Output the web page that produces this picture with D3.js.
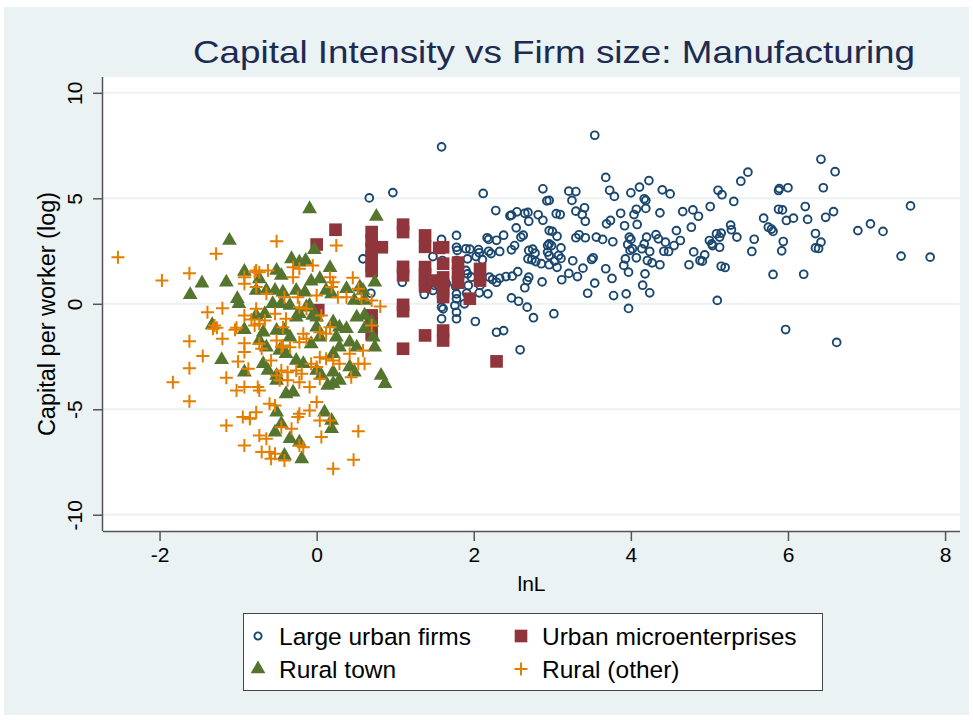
<!DOCTYPE html>
<html>
<head>
<meta charset="utf-8">
<script src="https://cdn.jsdelivr.net/npm/d3@7"></script>
<style>
  body { margin: 0; background: #ffffff; }
  svg { display: block; font-family: "Liberation Sans", Arial, sans-serif; }
</style>
</head>
<body>
<script>
// series values: [lnL, log capital per worker]
const largeUrban = [
  [5.49,6.24],[5.40,5.81],[6.42,6.85],[6.60,6.26],[5.88,5.37],[5.89,5.46],[6.00,5.50],[6.45,5.50],[7.56,4.64],[5.88,4.48],
  [5.93,4.45],[6.22,4.61],[6.58,4.37],[6.48,4.10],[6.25,4.00],[6.07,4.06],[5.98,3.95],[5.69,4.06],[5.75,3.63],[5.79,3.54],
  [5.81,3.43],[5.57,3.06],[5.54,2.48],[5.94,2.95],[5.92,2.51],[6.35,3.33],[6.42,2.92],[6.35,2.65],[6.39,2.62],[6.89,3.47],
  [7.05,3.79],[7.21,3.43],[7.44,2.26],[7.81,2.21],[5.81,1.39],[6.20,1.40],[5.97,-1.22],[6.62,-1.83],
  [3.54,7.99],[3.68,5.99],[4.23,5.84],[4.11,5.53],[3.73,5.38],[3.79,5.09],[4.00,5.26],[3.21,5.34],[3.30,5.32],[3.25,4.90],
  [2.96,4.90],[4.40,5.40],[4.50,5.21],[4.17,4.98],[4.19,4.90],[4.19,4.52],[4.07,4.48],[4.04,4.23],[4.08,3.76],[3.87,4.29],
  [4.37,4.31],[4.66,4.37],[4.79,4.45],[4.86,4.15],[5.01,4.61],[5.11,5.38],[5.16,5.17],[5.31,4.85],
  [3.10,4.23],[3.30,4.39],[3.41,4.55],[3.38,4.23],[3.42,3.91],[3.69,3.79],[3.74,3.95],[3.92,3.70],[4.77,3.63],[2.96,3.47],
  [3.00,3.43],[3.06,3.20],[3.30,3.13],[3.34,3.27],[3.42,3.13],[3.56,3.16],[3.64,3.05],[3.77,2.94],[3.98,3.16],[4.00,3.05],
  [3.96,2.81],[4.20,3.16],[4.32,3.28],[4.35,3.08],[4.58,3.47],[4.63,3.00],[4.55,2.76],[4.44,2.92],[4.42,2.49],[4.48,2.48],
  [4.17,2.84],[4.14,2.61],[4.24,2.48],[3.99,2.53],[4.02,2.61],[3.93,2.13],[4.07,2.18],[4.21,2.05],[4.27,1.94],[4.37,1.85],
  [3.91,1.82],[3.97,1.50],[4.18,1.42],[3.68,1.66],[3.76,1.20],[3.50,2.10],[3.52,2.18],[3.39,1.69],[3.26,2.04],[3.21,1.44],
  [3.32,1.29],[3.12,1.14],[3.11,2.65],[2.96,2.84],[2.99,2.76],[3.08,2.29],[3.11,2.15],[2.96,2.29],[2.96,1.85],[3.06,1.73],
  [3.54,0.98],[3.45,0.50],[3.78,0.39],[3.94,0.47],[4.15,0.88],[4.24,0.52],[3.97,-0.22],[3.02,-0.47],[4.74,1.85],[4.80,2.46],
  [4.88,2.05],[4.91,2.02],[4.94,2.32],[5.00,3.00],[5.03,2.84],[5.04,2.76],[5.09,3.32],[5.13,3.16],[5.15,3.35],[5.13,2.68],
  [5.27,3.73],[5.28,3.51],[5.35,3.16],[5.15,1.78],[5.20,1.72],[5.10,0.16],
  [1.59,7.44],[0.97,5.27],[2.12,5.23],[2.88,5.45],[2.93,4.88],[2.28,4.42],[2.46,4.17],[2.48,4.20],[2.55,4.36],[2.65,4.29],
  [2.69,4.33],[2.70,3.91],[2.82,4.22],[2.88,3.96],[3.05,4.27],[2.54,3.60],[2.38,3.25],[2.60,3.16],[2.63,3.25],[2.17,3.13],
  [2.19,3.05],[2.29,3.01],[2.52,2.76],[2.48,2.56],[2.33,2.48],[2.19,2.49],[2.22,2.38],[2.06,2.57],[2.07,2.42],[1.95,2.59],
  [1.78,3.24],[1.59,3.05],[1.78,2.68],[1.79,2.53],[1.90,2.61],[1.48,2.24],[1.60,2.05],[1.78,2.05],[1.92,2.13],[2.03,2.24],
  [2.11,2.09],[2.70,2.53],[2.75,2.59],[2.78,2.40],[2.69,2.13],[2.74,2.09],[2.79,2.00],[2.86,1.90],[2.94,2.76],[2.94,2.45],
  [3.03,2.02],[2.56,1.52],[2.70,1.26],[2.68,1.10],[2.65,0.76],[2.87,1.04],[2.20,1.26],[2.24,1.15],[2.29,1.02],[2.33,1.21],
  [2.41,1.29],[2.49,1.31],[2.07,1.10],[2.08,0.87],[1.93,0.87],[1.97,1.26],[1.90,1.58],[1.92,1.42],[2.18,0.47],[2.07,0.52],
  [1.91,0.50],[1.77,0.82],[1.78,0.47],[1.78,0.24],[1.76,-0.08],[1.78,-0.40],[1.78,-0.71],[1.88,0.00],[1.59,0.31],[1.59,-0.16],
  [1.61,-0.24],[1.59,-0.71],[1.48,0.63],[1.50,0.87],[1.37,0.44],[1.65,0.95],[2.48,0.28],[2.57,0.12],[2.68,-0.16],[2.76,-0.66],
  [2.02,-0.84],[2.29,-1.35],[2.38,-1.27],[2.59,-2.18],[1.09,1.02],[0.67,5.02],[0.59,2.13],[0.69,0.50]
];

const urbanMicro = [
  [0.24,3.51],[0.00,2.81],[0.02,-0.30],
  [0.70,3.40],[0.70,3.00],[0.70,2.60],[0.70,2.20],[0.70,1.80],[0.70,1.55],[0.83,2.68],[0.70,-0.55],[0.70,-1.00],[0.70,-1.45],
  [1.10,3.75],[1.10,3.40],[1.10,1.75],[1.10,1.35],[1.10,-0.05],[1.10,-0.35],[1.10,-2.13],
  [1.38,3.24],[1.38,2.70],[1.56,2.65],[1.61,2.68],[1.38,1.74],[1.38,1.40],[1.38,1.10],[1.38,0.82],[1.48,1.10],[1.38,-1.50],
  [1.61,1.90],[1.61,1.25],[1.61,0.90],[1.61,0.60],[1.61,0.32],[1.61,-1.27],[1.61,-1.74],
  [1.80,1.95],[1.80,1.45],[1.80,1.00],
  [2.08,1.65],[2.08,1.10],[1.95,0.24],[2.29,-2.73]
];

const ruralTown = [
  [-1.11,3.00],[-1.46,0.98],[-1.61,0.43],[-1.15,1.02],[-0.92,1.53],[-1.01,0.24],[-0.99,0.00],[-1.33,-1.00],[-0.92,-1.23],[-1.21,-2.65],
  [-0.92,-3.24],[-0.77,0.63],
  [-0.09,4.50],[0.76,4.14],[-0.03,2.56],[-0.32,2.13],[-0.22,1.97],[-0.14,2.05],[0.17,1.71],[0.04,1.18],[-0.07,1.07],[-0.51,1.58],
  [-0.45,1.34],[-0.73,1.18],[0.74,1.02],[0.38,0.71],[-0.64,0.63],[-0.53,0.63],[-0.43,0.55],[-0.26,0.63],[-0.15,0.55],[0.12,0.63],
  [0.19,0.47],[0.48,0.16],[0.61,0.16],[-0.56,0.00],[-0.45,0.00],[-0.34,-0.08],[-0.09,-0.08],[-0.77,-0.55],[-0.66,-0.47],[-0.26,-0.64],
  [-0.05,-0.55],[0.21,-0.87],[0.29,-1.11],[0.61,-0.55],[0.70,-0.87],[0.61,-1.18],[0.72,-1.58],[-0.51,-1.27],[-0.41,-1.27],[-0.34,-1.58],
  [0.00,-1.11],[0.04,-1.58],[-0.07,-1.90],[-0.73,-1.74],[-0.64,-2.06],[-0.47,-2.21],[-0.39,-2.37],[-0.26,-2.69],[-0.17,-2.84],[0.42,-1.82],
  [0.51,-2.06],[0.74,-2.06],[-0.68,-2.84],[-0.62,-3.16],[-0.51,-3.40],[-0.51,-3.63],[0.00,-3.16],[0.06,-3.40],[0.42,-3.00],[0.48,-3.24],
  [0.14,-3.87],[0.21,-3.79],[0.82,-3.40],[0.87,-3.79],[-0.39,-4.27],[-0.30,-4.19],[-0.51,-5.14],[-0.45,-5.69],[-0.34,-6.40],[-0.22,-6.56],
  [-0.41,-7.19],[-0.19,-7.35],[0.10,-5.14],[0.19,-5.53],[0.19,-5.92],[-0.53,-6.09],
  [0.55,0.79],[0.59,0.63],[-0.22,-0.47],[0.00,-0.64],[-0.13,-0.16],[0.25,-1.58],[0.38,-1.18],[0.51,-0.64],[0.21,-2.37],[0.29,-2.06],
  [0.21,-3.24],[0.29,-3.63],[-0.68,-1.35]
];

const ruralOther = [
  [-2.53,2.21],[-1.97,1.10],[-1.62,1.45],[-1.28,2.37],[-1.39,-0.40],[-1.20,-0.21],[-1.30,-1.03],[-1.27,-1.14],[-1.32,-1.18],[-1.20,-1.66],
  [-1.62,-1.77],[-1.45,-2.48],[-1.62,-3.05],[-1.83,-3.72],[-1.62,-4.62],[-1.15,-3.51],[-1.02,-4.11],[-0.92,-3.95],[-1.15,-5.77],[-0.92,-6.72],
  [-0.94,-5.37],[-0.85,-5.42],[-1.04,-1.23],[-1.02,-1.14],[-0.92,-1.87],[-0.92,-2.29],[-1.00,-2.73],[-0.87,-3.08],[-0.92,1.26],[-0.92,0.95],
  [-0.79,1.50],[-0.77,-0.24],[-0.92,-0.55],[-0.83,-0.74],[-0.79,-1.03],
  [-0.51,2.97],[0.25,2.76],[-0.77,1.58],[-0.62,1.58],[-0.30,1.73],[-0.22,1.66],[-0.30,1.26],[-0.05,1.82],[0.17,1.26],[0.19,0.79],
  [0.21,1.02],[0.46,1.23],[0.53,0.71],[-0.77,0.79],[-0.64,0.47],[-0.41,0.31],[-0.24,0.31],[0.00,0.39],[0.27,0.31],[0.38,0.31],
  [0.57,0.24],[0.70,0.16],[0.81,-0.13],[-0.22,-0.16],[-0.13,-0.24],[-0.53,-0.47],[0.06,-0.55],[-0.39,-0.71],[-0.43,-1.11],[-0.73,-0.95],
  [-0.66,-0.79],[0.17,-1.11],[0.70,-1.03],[-0.17,-1.42],[-0.22,-1.82],[-0.13,-1.66],[0.04,-1.35],[0.12,-1.42],[-0.43,-1.98],[-0.34,-2.06],
  [-0.70,-2.13],[-0.58,-2.69],[0.04,-2.53],[0.12,-2.61],[0.21,-2.69],[0.29,-2.84],[0.42,-2.37],[0.59,-2.21],[0.53,-2.84],[0.61,-2.84],
  [0.44,-3.48],[-0.45,-3.16],[-0.37,-3.24],[-0.26,-3.16],[-0.19,-3.32],[-0.51,-3.40],[-0.22,-3.72],[-0.09,-3.95],[0.04,-3.55],[-0.75,-3.95],
  [-0.73,-4.11],[0.00,-4.66],[-0.60,-4.74],[-0.53,-4.82],[-0.09,-5.06],[-0.24,-5.37],[-0.77,-5.14],[-0.85,-5.45],[0.04,-5.53],[0.17,-5.53],
  [-0.45,-5.85],[-0.32,-5.92],[0.06,-6.32],[-0.73,-6.24],[-0.64,-6.40],[0.53,-6.04],[-0.17,-6.80],[-0.70,-7.03],[-0.60,-7.03],[-0.53,-7.11],
  [-0.41,-7.43],[0.21,-7.82],[0.47,-7.39],[-0.58,-7.35],
  [-0.73,1.50],[-0.51,-1.74],[-0.45,-2.06],[-0.73,-1.90],[-0.07,-2.84],[0.00,-3.00],[-0.47,-3.63],[-0.37,-3.63],[-0.22,-6.72],[-0.22,-5.21]
];

const xTicks = [-2, 0, 2, 4, 6, 8];
const yTicks = [-10, -5, 0, 5, 10];
const seriesNames = ["Large urban firms", "Urban microenterprises", "Rural town", "Rural (other)"];

// layout
const W = 973, H = 722;
const plot = { left: 103, right: 960, top: 77, bottom: 531 };
const bgColor = "#eaf2f3";
const colors = { navy: "#1a476f", maroon: "#90353b", green: "#55752f", orange: "#e37e00" };
const narrow = "'Liberation Sans Narrow', 'Liberation Sans', Arial, sans-serif";

const svg = d3.select("body").append("svg").attr("width", W).attr("height", H);

// outer background
svg.append("rect").attr("x", 0).attr("y", 0).attr("width", W).attr("height", H).attr("fill", "#ffffff");
svg.append("rect").attr("x", 4).attr("y", 7).attr("width", W - 8).attr("height", H - 14).attr("fill", bgColor);

// plot region
svg.append("rect")
  .attr("x", plot.left).attr("y", plot.top)
  .attr("width", plot.right - plot.left).attr("height", plot.bottom - plot.top)
  .attr("fill", "#ffffff");

// scales
const x = d3.scaleLinear().domain([-2.72, 8.19]).range([plot.left, plot.right]);
const y = d3.scaleLinear().domain([-10.77, 10.75]).range([plot.bottom, plot.top]);

// gridlines
svg.append("g").selectAll("line").data(yTicks).join("line")
  .attr("x1", plot.left).attr("x2", plot.right)
  .attr("y1", d => y(d)).attr("y2", d => y(d))
  .attr("stroke", bgColor).attr("stroke-width", 2);

// title
svg.append("text")
  .attr("x", 554).attr("y", 63)
  .attr("text-anchor", "middle")
  .attr("font-size", 32)
  .attr("fill", "#1c2b52")
  .attr("textLength", 722).attr("lengthAdjust", "spacingAndGlyphs")
  .text("Capital Intensity vs Firm size: Manufacturing");

// axes (plain hyphen for negative labels, as in the original)
const fmt = d => String(d);
const xAxis = d3.axisBottom(x).tickValues(xTicks).tickSize(10).tickPadding(6).tickFormat(fmt);
const gX = svg.append("g").attr("transform", `translate(0,${plot.bottom})`).call(xAxis);
gX.select(".domain").attr("d", `M${plot.left},0.5H${plot.right}`).attr("stroke", "#555").attr("stroke-width", 1.5);
gX.selectAll(".tick line").attr("stroke", "#555").attr("stroke-width", 1.5);
gX.selectAll(".tick text").attr("font-size", 21).attr("fill", "#000").attr("font-family", narrow);

const yAxis = d3.axisLeft(y).tickValues(yTicks).tickSize(10).tickPadding(8).tickFormat(fmt);
const gY = svg.append("g").attr("transform", `translate(${plot.left},0)`).call(yAxis);
gY.select(".domain").attr("d", `M-0.5,${plot.top}V${plot.bottom}`).attr("stroke", "#555").attr("stroke-width", 1.5);
gY.selectAll(".tick line").attr("stroke", "#555").attr("stroke-width", 1.5);
gY.selectAll(".tick text")
  .attr("font-size", 21).attr("fill", "#000")
  .attr("font-family", narrow)
  .attr("x", null).attr("dy", null)
  .attr("text-anchor", "middle")
  .attr("transform", "translate(-21,0) rotate(-90)")
  .attr("y", 0);

// axis titles
svg.append("text")
  .attr("x", (plot.left + plot.right) / 2).attr("y", 591)
  .attr("text-anchor", "middle").attr("font-size", 21)
  .attr("font-family", narrow)
  .text("lnL");

svg.append("text")
  .attr("transform", `translate(55,${(plot.top + plot.bottom) / 2 + 10}) rotate(-90)`)
  .attr("text-anchor", "middle").attr("font-size", 23.5)
  .text("Capital per worker (log)");

// markers
const plusPath = "M-6.5,0H6.5M0,-6.5V6.5";
const triPath = d3.symbol().type(d3.symbolTriangle).size(95)();
const sqPath = d3.symbol().type(d3.symbolSquare).size(160)();

const marks = svg.append("g");

marks.append("g").selectAll("circle").data(largeUrban).join("circle")
  .attr("cx", d => x(d[0])).attr("cy", d => y(d[1])).attr("r", 3.9)
  .attr("fill", "none").attr("stroke", colors.navy).attr("stroke-width", 1.9);

marks.append("g").selectAll("path").data(urbanMicro).join("path")
  .attr("d", sqPath)
  .attr("transform", d => `translate(${x(d[0])},${y(d[1])})`)
  .attr("fill", colors.maroon);

marks.append("g").selectAll("path").data(ruralTown).join("path")
  .attr("d", triPath)
  .attr("transform", d => `translate(${x(d[0])},${y(d[1])})`)
  .attr("fill", colors.green);

marks.append("g").selectAll("path").data(ruralOther).join("path")
  .attr("d", plusPath)
  .attr("transform", d => `translate(${x(d[0])},${y(d[1])})`)
  .attr("fill", "none").attr("stroke", colors.orange).attr("stroke-width", 2);

// legend
const legend = svg.append("g");
legend.append("rect")
  .attr("x", 243.5).attr("y", 613.5).attr("width", 579).attr("height", 77)
  .attr("fill", "#ffffff").attr("stroke", "#444").attr("stroke-width", 1);

const legendItems = [
  { name: seriesNames[0], cx: 258, cy: 636, kind: "circle" },
  { name: seriesNames[1], cx: 521, cy: 636, kind: "square" },
  { name: seriesNames[2], cx: 258, cy: 669, kind: "triangle" },
  { name: seriesNames[3], cx: 521, cy: 669, kind: "plus" }
];

legendItems.forEach(it => {
  const g = legend.append("g").attr("transform", `translate(${it.cx},${it.cy})`);
  if (it.kind === "circle") {
    g.append("circle").attr("r", 3.6).attr("fill", "none").attr("stroke", colors.navy).attr("stroke-width", 1.9);
  } else if (it.kind === "square") {
    g.append("path").attr("d", sqPath).attr("fill", colors.maroon);
  } else if (it.kind === "triangle") {
    g.append("path").attr("d", triPath).attr("fill", colors.green);
  } else {
    g.append("path").attr("d", plusPath).attr("fill", "none").attr("stroke", colors.orange).attr("stroke-width", 2);
  }
  g.append("text").attr("x", 21).attr("y", 9).attr("font-size", 24.5).attr("fill", "#000").text(it.name);
});
</script>
</body>
</html>
